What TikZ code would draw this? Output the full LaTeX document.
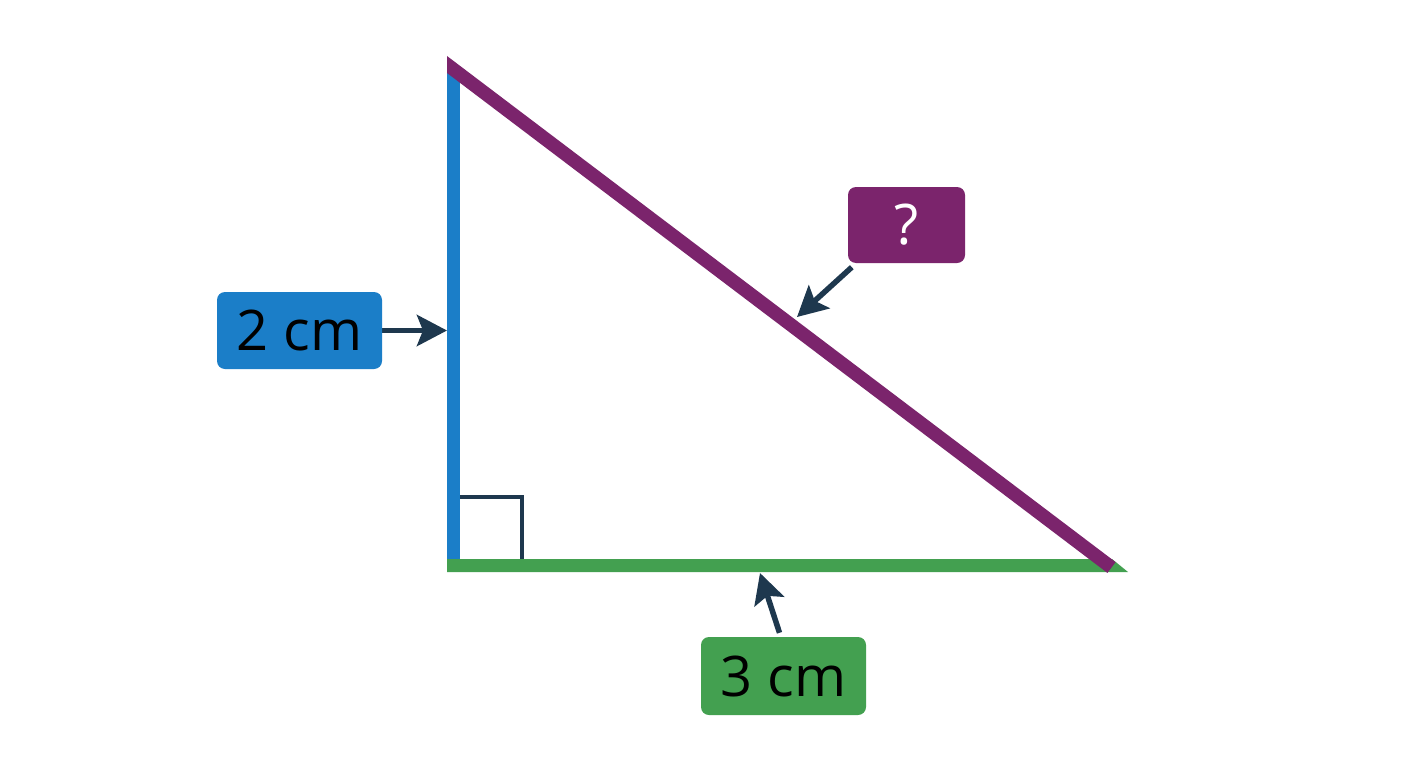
\documentclass[tikz,border=0pt]{standalone}
\usepackage{fontspec}
\setmainfont{Open Sans}
\usetikzlibrary{arrows.meta,backgrounds}
\definecolor{cblue}{RGB}{27,126,200}
\definecolor{cpurple}{RGB}{123,36,108}
\definecolor{cgreen}{RGB}{67,160,80}
\definecolor{cnavy}{RGB}{30,56,78}
\tikzset{
  lblbox/.style={rounded corners=8pt, inner sep=0pt, font=\fontsize{56}{56}\selectfont},
  conn/.style={draw=cnavy, line width=5.5pt, -{Stealth[length=30pt,width=31pt,inset=6pt]}},
}
\begin{document}
\begin{tikzpicture}[x=1pt,y=-1pt]
\useasboundingbox (0,0) rectangle (1408,768);
% triangle sides
\fill[cblue] (447,70) rectangle (460,559);
\fill[cgreen] (447,559) -- (1112,559) -- (1128,572) -- (447,572) -- cycle;
\fill[cpurple] (447,56) -- (1115.6,562.1) -- (1107.4,572.9) -- (447,73) -- cycle;
% right angle mark
\draw[cnavy, line width=4pt] (460,497) -- (521.5,497) -- (521.5,559);
% labels
\node[lblbox, fill=cblue, minimum width=165pt, minimum height=77pt, text=black] (boxL) at (299.5,330.5) {2 cm};
\node[lblbox, fill=cgreen, minimum width=165pt, minimum height=78pt, text=black] (boxB) at (783.5,676) {3 cm};
\node[lblbox, fill=cpurple, minimum width=117pt, minimum height=76pt, text=white] (boxH) at (906.5,225) {?};
% tip coordinates
\coordinate (tipL) at (447,330.5);
\coordinate (tipB) at (760,573);
\coordinate (tipH) at (797,317);
\begin{scope}[on background layer]
\fill[white] (0,0) rectangle (1408,768);
\draw[conn] (boxL.east) -- (tipL);
\draw[conn] ([xshift=-4pt,yshift=4pt]boxB.north) -- (tipB);
\draw[conn] ([shift={(4pt,-4pt)}]boxH.south west) -- (tipH);
\end{scope}
\end{tikzpicture}
\end{document}
